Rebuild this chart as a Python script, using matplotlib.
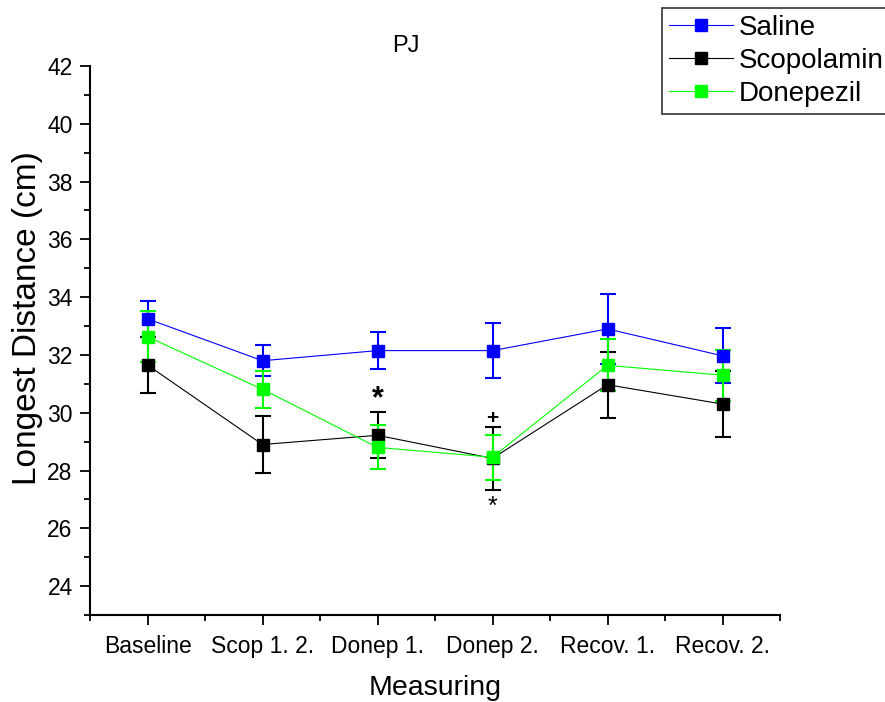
import matplotlib.pyplot as plt
from matplotlib.lines import Line2D
from matplotlib.ticker import MultipleLocator

plt.rcParams['font.family'] = ['Liberation Sans', 'DejaVu Sans']

# values
categories = ['Baseline', 'Scop 1. 2.', 'Donep 1.', 'Donep 2.', 'Recov. 1.', 'Recov. 2.']
saline = [33.25, 31.8, 32.15, 32.15, 32.9, 31.97]
saline_err = [0.63, 0.53, 0.64, 0.95, 1.2, 0.95]
scopolamin = [31.65, 28.9, 29.22, 28.42, 30.97, 30.3]
scopolamin_err = [0.97, 1.0, 0.8, 1.1, 1.14, 1.14]
donepezil = [32.63, 30.81, 28.8, 28.46, 31.64, 31.3]
donepezil_err = [0.88, 0.64, 0.76, 0.78, 0.9, 0.88]

series = [
    ('Saline', saline, saline_err, '#0000ff'),
    ('Scopolamin', scopolamin, scopolamin_err, '#000000'),
    ('Donepezil', donepezil, donepezil_err, '#00ff00'),
]

fig = plt.figure(figsize=(8.85, 7.02), dpi=100)
ax = fig.add_axes([90 / 885, 87 / 702, 690 / 885, 549 / 702])

x = list(range(1, len(categories) + 1))
handles = []
for name, vals, errs, col in series:
    ax.errorbar(x, vals, yerr=errs, color=col, lw=0.8, marker='s', ms=9,
                mec=col, mfc=col, elinewidth=1.5, capsize=6, capthick=1.5)
    handles.append(Line2D([], [], color=col, lw=0.8, marker='s', ms=9,
                          mec=col, mfc=col, label=name))

# significance marks
ax.text(3, 30.45, '*', ha='center', va='center', fontsize=22, fontweight='bold')
ax.text(4, 29.8, '+', ha='center', va='center', fontsize=15, fontweight='bold')
ax.text(4, 26.75, '*', ha='center', va='center', fontsize=18)

ax.set_xlim(0.5, 6.5)
ax.set_ylim(23, 42)
ax.set_xticks(x)
ax.set_xticklabels(categories)
ax.xaxis.set_minor_locator(MultipleLocator(1, offset=0.5))
ax.yaxis.set_minor_locator(MultipleLocator(1))
ax.set_yticks(range(24, 43, 2))

for s in ['top', 'right']:
    ax.spines[s].set_visible(False)
for s in ['left', 'bottom']:
    ax.spines[s].set_linewidth(1.5)

ax.tick_params(which='major', direction='out', length=7.5, width=1.3,
               labelsize=16.5, pad=5)
ax.tick_params(which='minor', direction='out', length=4, width=1.3)
ax.tick_params(axis='x', which='major', pad=7)

ax.set_xlabel('Measuring', fontsize=20.5, labelpad=12)
ax.set_ylabel('Longest Distance (cm)', fontsize=24, labelpad=5)
ax.yaxis.set_label_coords(-0.068, 0.54)
ax.set_title('PJ', fontsize=17, x=0.457, pad=10)

leg = fig.legend(handles=handles, loc='upper left',
                 bbox_to_anchor=(662 / 885, 1 - 8 / 702),
                 fontsize=20, frameon=True, fancybox=False, handlelength=2.3,
                 handletextpad=0.2, labelspacing=0.25, borderpad=0.25,
                 borderaxespad=0)
leg.get_frame().set_edgecolor('black')
leg.get_frame().set_linewidth(1.2)

fig.savefig('out.png', dpi=100)
